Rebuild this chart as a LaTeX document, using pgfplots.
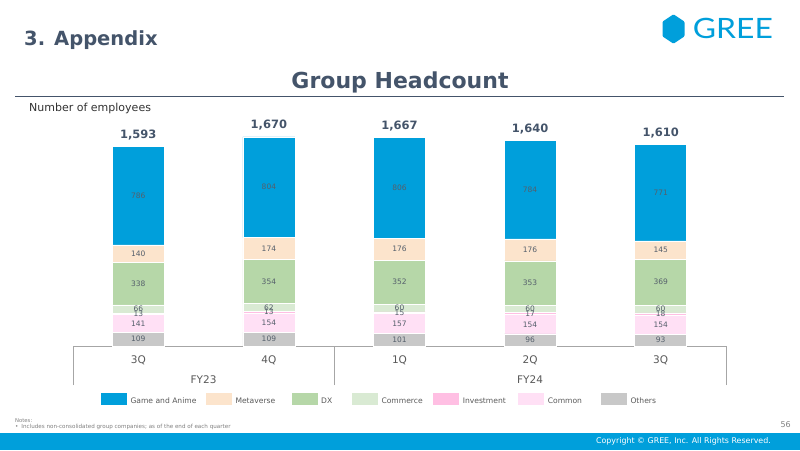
\documentclass[border=0pt]{standalone}
\usepackage{pgfplots}
\pgfplotsset{compat=1.18}
\usepackage{pgfplotstable}
\usepackage{fontspec}
\setmainfont{DejaVu Sans}
\newfontfamily\latofont{Lato}

\definecolor{cGame}{HTML}{009FDB}
\definecolor{cMeta}{HTML}{FCE4CC}
\definecolor{cDX}{HTML}{B6D7A8}
\definecolor{cComm}{HTML}{D9EAD3}
\definecolor{cInv}{HTML}{FFBFE3}
\definecolor{cCommon}{HTML}{FFE0F5}
\definecolor{cOth}{HTML}{C8C8C8}
\definecolor{slate}{HTML}{44546A}
\definecolor{lbl}{HTML}{555F6B}
\definecolor{axgray}{HTML}{A6A6A6}
\definecolor{txtgray}{HTML}{595959}

\pgfplotstableread{
x others common invest commerce dx meta game total
0 109 141 13 66 338 140 786 1593
1 109 154 13 62 354 174 804 1670
2 101 157 15 60 352 176 806 1667
3 96 154 17 60 353 176 784 1640
4 93 154 18 60 369 145 771 1610
}\data

\begin{document}
\begin{tikzpicture}[x=1pt,y=1pt]
\useasboundingbox (0,0) rectangle (800,450);
\fill[white] (0,0) rectangle (800,450);

% header
\node[anchor=base west, inner sep=0pt, text=slate, font=\bfseries\fontsize{19.5}{22}\selectfont] at (24,404) {3. Appendix};
\node[anchor=base, inner sep=0pt, text=slate, font=\bfseries\fontsize{22}{26}\selectfont] at (400,361.7) {Group Headcount};
\draw[slate, line width=1.2pt] (15,353.3) -- (784,353.3);
\node[anchor=base west, inner sep=0pt, text=black!80, font=\fontsize{11}{13}\selectfont] at (29,338.5) {Number of employees};

% logo
\fill[cGame, rounded corners=1pt] (673.5,435.7) -- (684.5,428.4) -- (684.5,413.6) -- (673.5,406.3) -- (662.5,413.6) -- (662.5,428.4) -- cycle;
\node[anchor=south west, inner sep=0pt, text=cGame] at (692.7,410.7) {\resizebox{80pt}{20.3pt}{\latofont GREE}};

\begin{axis}[
  at={(73pt,104pt)}, anchor=south west,
  scale only axis, width=653pt, height=225.4pt,
  xmin=-0.5, xmax=4.5, ymin=0, ymax=1800,
  ybar stacked, bar width=52pt,
  axis x line*=bottom, axis y line=none,
  x axis line style={draw=axgray, line width=0.9pt},
  xtick={0,1,2,3,4}, xticklabels={3Q,4Q,1Q,2Q,3Q},
  major tick length=0pt,
  minor xtick={-0.5,1.5,4.5}, minor tick length=39pt, tick align=outside,
  minor tick style={draw=axgray, line width=0.9pt},
  xticklabel style={font=\fontsize{10.5}{12}\selectfont, text=txtgray, anchor=center, yshift=-14.7pt},
  clip=false,
  point meta=explicit,
  nodes near coords={\pgfmathprintnumber{\pgfplotspointmeta}},
  every node near coord/.append style={anchor=center, font=\fontsize{7.5}{9}\selectfont, text=lbl,
    /pgf/number format/assume math mode=true},
  every axis plot/.append style={draw=white, line width=0.5pt},
  every axis plot post/.append style={legend image code/.code={\fill[##1, draw=none] (0pt,-3.2pt) rectangle (26pt,8.5pt);}},
  reverse legend,
  legend columns=7,
  legend cell align=left,
  legend style={at={(0.04288,-0.2364)}, anchor=west, draw=none, fill=none, inner sep=0pt, outer sep=0pt,
    font=\fontsize{7.6}{9}\selectfont, text=txtgray,
    column sep=0pt, /tikz/every odd column/.append style={column sep=3.5pt},
    nodes={inner sep=0pt}},
]
\addplot[fill=cOth] table[x=x,y=others,meta=others]{\data};
\addplot[fill=cCommon] table[x=x,y=common,meta=common]{\data};
\addplot[fill=cInv] table[x=x,y=invest,meta=invest]{\data};
\addplot[fill=cComm] table[x=x,y=commerce,meta=commerce]{\data};
\addplot[fill=cDX] table[x=x,y=dx,meta=dx]{\data};
\addplot[fill=cMeta] table[x=x,y=meta,meta=meta]{\data};
\addplot[fill=cGame] table[x=x,y=game,meta=game]{\data};
\legend{Others, \makebox[53.2pt][l]{Common}, \makebox[55.5pt][l]{Investment}, \makebox[51.8pt][l]{Commerce}, \makebox[30.8pt][l]{DX}, \makebox[56.2pt][l]{Metaverse}, \makebox[75.5pt][l]{Game and Anime}}
\end{axis}

\begin{axis}[
  at={(73pt,104pt)}, anchor=south west,
  scale only axis, width=653pt, height=225.4pt,
  xmin=-0.5, xmax=4.5, ymin=0, ymax=1800,
  axis line style={draw=none}, ytick=\empty,
  xtick={0.5,3}, xticklabels={FY23,FY24}, major tick length=0pt,
  xticklabel style={font=\fontsize{10.5}{12}\selectfont, text=txtgray, anchor=center, yshift=-34pt},
  clip=false,
  point meta=explicit,
  nodes near coords={\pgfmathprintnumber{\pgfplotspointmeta}},
  every node near coord/.append style={anchor=center, yshift=11.5pt, text=slate,
    font=\bfseries\fontsize{11.5}{13}\selectfont,
    /pgf/number format/assume math mode=true, /pgf/number format/1000 sep={,}},
]
\addplot[draw=none, mark=none] table[x=x,y=total,meta=total]{\data};
\end{axis}

% footer
\node[anchor=west, inner sep=0pt, text=gray, font=\fontsize{5.3}{6}\selectfont] at (15,29) {Notes:};
\node[anchor=west, inner sep=0pt, text=gray, font=\fontsize{5.6}{6}\selectfont] at (15,23) {\textbullet\hspace{3pt}Includes non-consolidated group companies; as of the end of each quarter};
\node[anchor=east, inner sep=0pt, text=gray, font=\fontsize{8}{9}\selectfont] at (791,25) {56};
\fill[cGame] (0,0) rectangle (800,17.3);
\node[anchor=east, inner sep=0pt, text=white, font=\fontsize{7.9}{9}\selectfont] at (771,9) {Copyright \textcopyright{} GREE, Inc. All Rights Reserved.};
\end{tikzpicture}
\end{document}
